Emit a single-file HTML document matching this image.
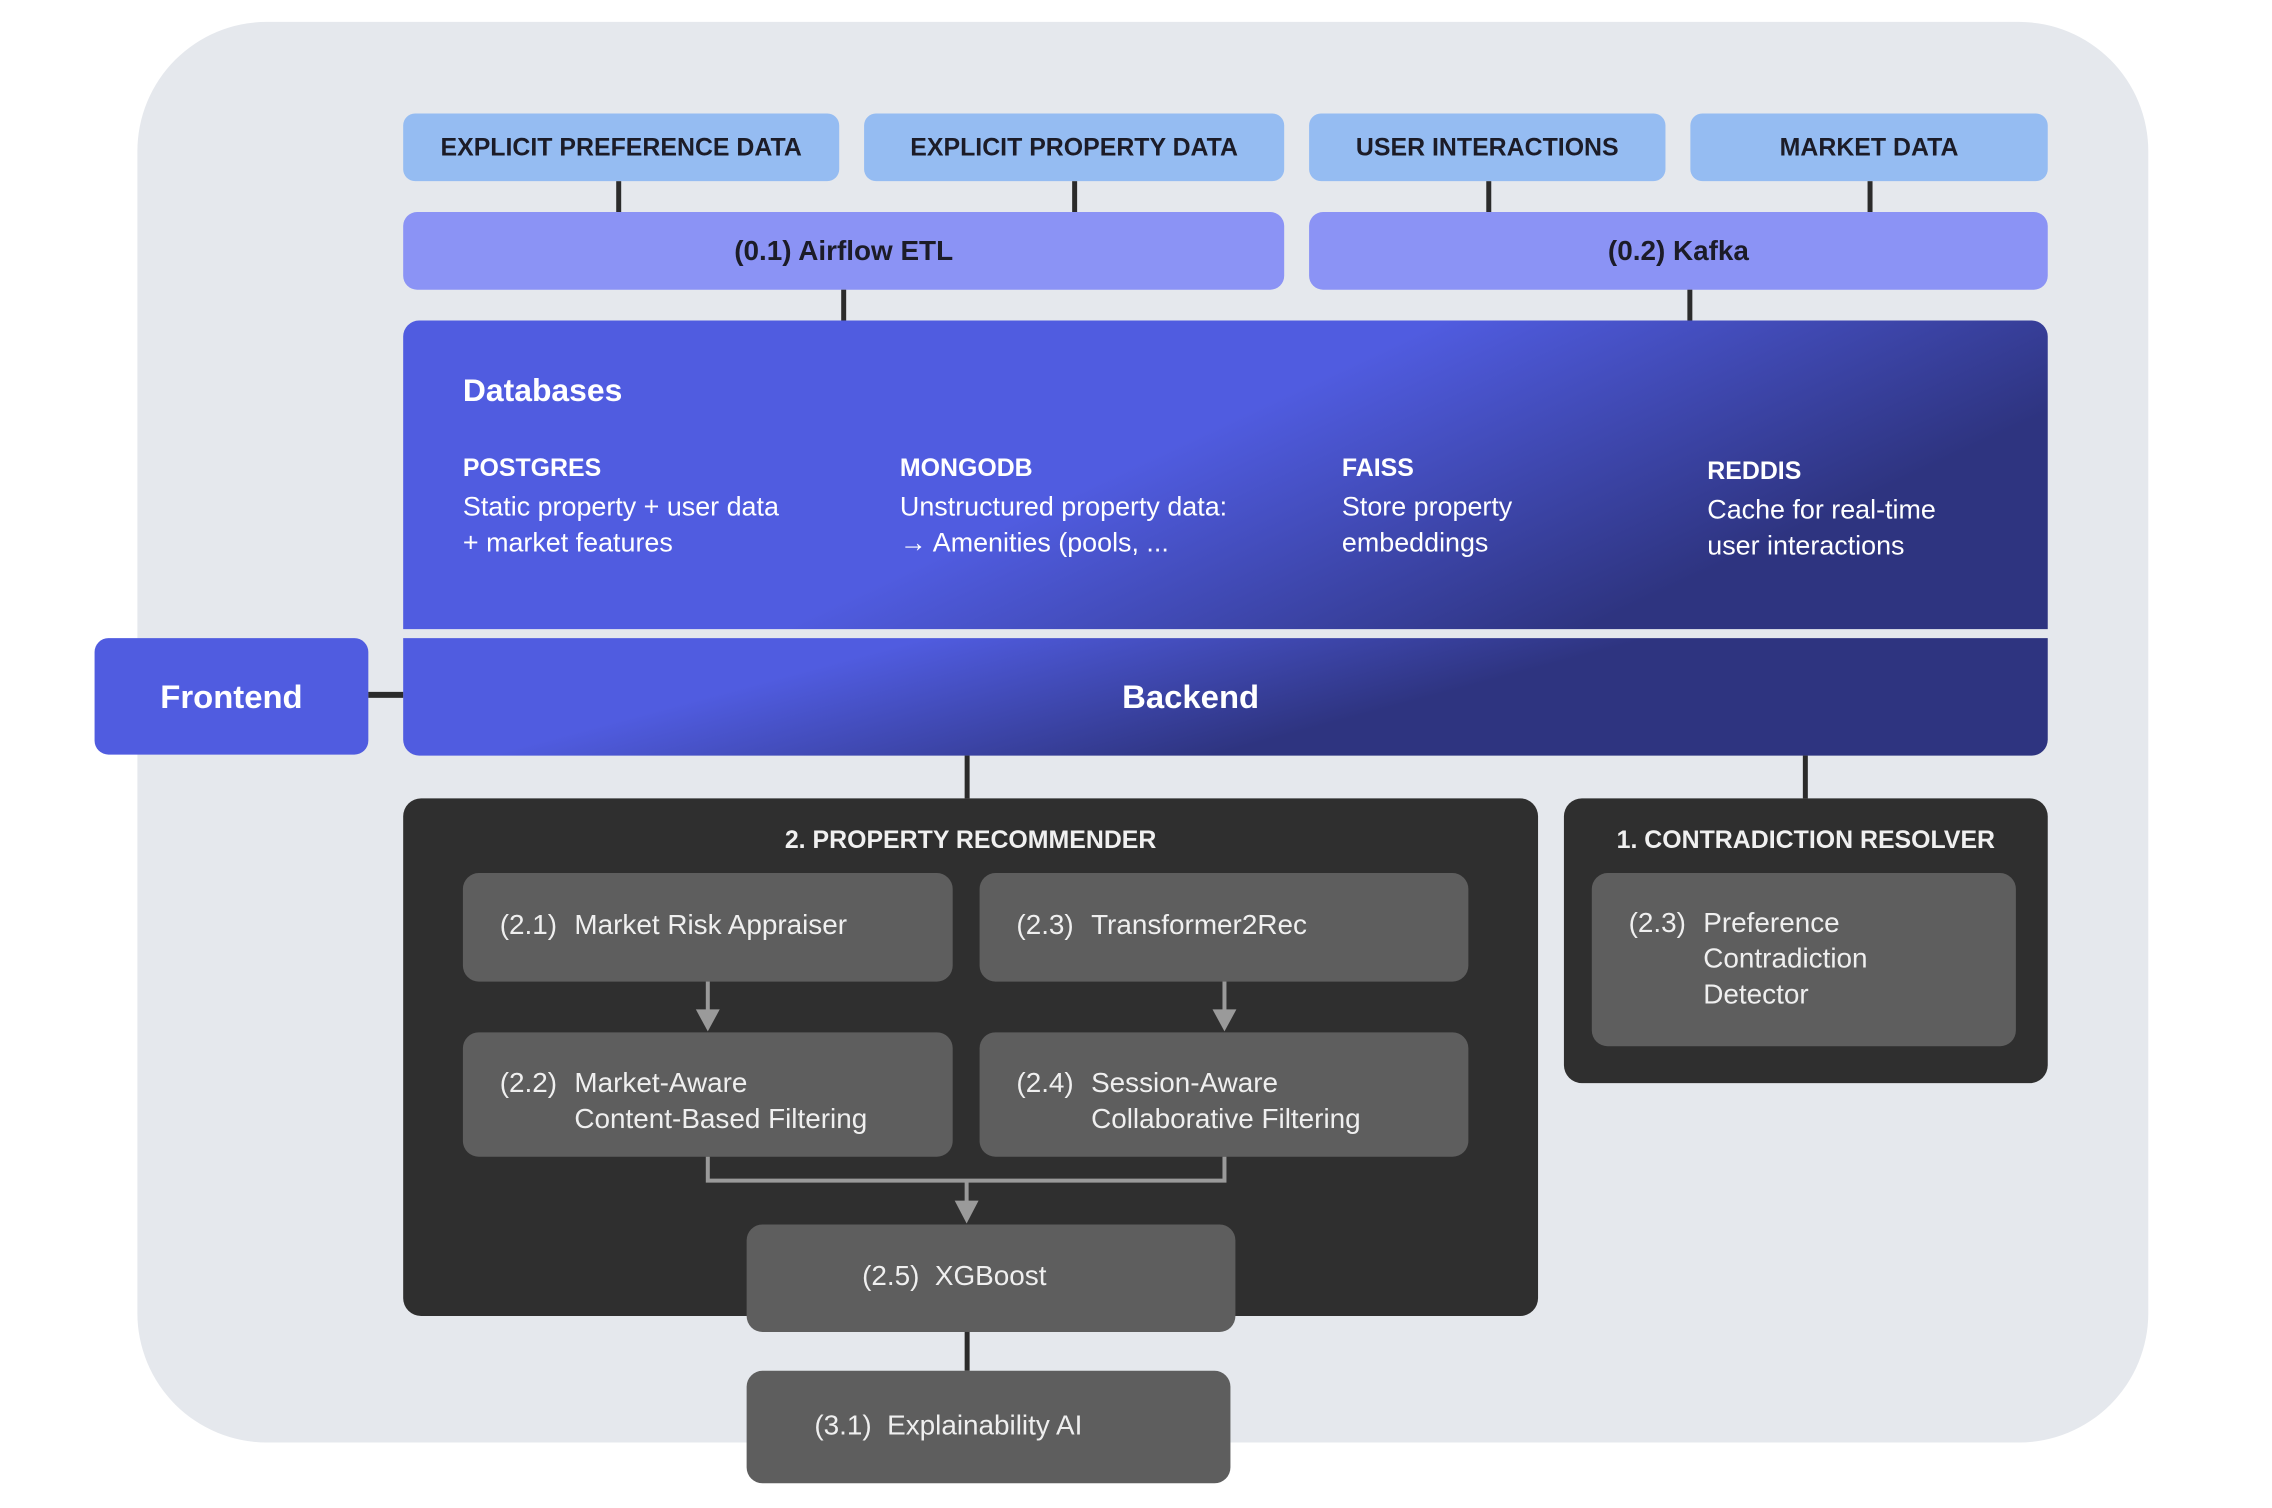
<!DOCTYPE html>
<html><head><meta charset="utf-8"><style>
*{margin:0;padding:0;box-sizing:border-box}
body{width:2272px;height:1508px;background:#fff;position:relative;overflow:hidden;font-family:"Liberation Sans",sans-serif}
#w{position:absolute;left:0;top:0;width:2272px;height:1508px;transform:scale(0.9955);transform-origin:0 0}
.a{position:absolute}
.bg{left:138px;top:22px;width:2020px;height:1427px;background:#e5e8ed;border-radius:130px}
.top{background:#95bcf2;border-radius:12px;color:#1c1c28;font-size:25px;font-weight:bold;display:flex;align-items:center;justify-content:center;top:114px;height:68px}
.etl{background:#8b93f5;border-radius:14px;color:#1c1c28;font-size:28px;font-weight:bold;display:flex;align-items:center;justify-content:center;top:213px;height:78px}
.vl{background:#2b2b2b;width:5px}
.db{left:405px;top:322px;width:1652px;height:310px;border-radius:16px 16px 0 0;background:linear-gradient(155deg,#505ce0 0%,#505ce0 45%,#2e3480 80%,#2e3480 100%);color:#fff}
.be{left:405px;top:641px;width:1652px;height:118px;border-radius:0 0 16px 16px;background:linear-gradient(165deg,#505ce0 0%,#505ce0 25%,#2e3480 60%,#2e3480 100%);color:#fff;font-size:33px;font-weight:bold;display:flex;align-items:center;justify-content:center}
.h{font-size:25px;font-weight:bold}
.t{font-size:27px;line-height:36px;margin-top:6px}
.dark{background:#2f2f2f;border-radius:18px}
.in{background:#5e5e5e;border-radius:16px;color:#efefef;font-size:28px;line-height:36px}
.in .n{position:absolute;left:37px}
.in .l{position:absolute;left:112px}
.ttl{color:#f0f0f0;font-size:25px;font-weight:bold;text-align:center;position:absolute;width:100%}
</style></head><body><div id="w">
<div class="a bg"></div>

<div class="a top" style="left:405px;width:438px">EXPLICIT PREFERENCE DATA</div>
<div class="a top" style="left:868px;width:422px">EXPLICIT PROPERTY DATA</div>
<div class="a top" style="left:1315px;width:358px">USER INTERACTIONS</div>
<div class="a top" style="left:1698px;width:359px">MARKET DATA</div>

<div class="a vl" style="left:619px;top:182px;height:31px"></div>
<div class="a vl" style="left:1077px;top:182px;height:31px"></div>
<div class="a vl" style="left:1493px;top:182px;height:31px"></div>
<div class="a vl" style="left:1876px;top:182px;height:31px"></div>

<div class="a etl" style="left:405px;width:885px">(0.1) Airflow ETL</div>
<div class="a etl" style="left:1315px;width:742px">(0.2) Kafka</div>

<div class="a vl" style="left:845px;top:291px;height:31px"></div>
<div class="a vl" style="left:1695px;top:291px;height:31px"></div>

<div class="a db">
 <div class="a" style="left:60px;top:52px;font-size:32px;font-weight:bold">Databases</div>
 <div class="a" style="left:60px;top:134px"><div class="h">POSTGRES</div><div class="t">Static property + user data<br>+ market features</div></div>
 <div class="a" style="left:499px;top:134px"><div class="h">MONGODB</div><div class="t">Unstructured property data:<br>→ Amenities (pools, ...</div></div>
 <div class="a" style="left:943px;top:134px"><div class="h">FAISS</div><div class="t">Store property<br>embeddings</div></div>
 <div class="a" style="left:1310px;top:137px"><div class="h">REDDIS</div><div class="t">Cache for real-time<br>user interactions</div></div>
</div>
<div class="a be"><span style="position:relative;left:-35px">Backend</span></div>

<div class="a" style="left:95px;top:641px;width:275px;height:117px;background:#505ce0;border-radius:14px;color:#fff;font-size:33px;font-weight:bold;display:flex;align-items:center;justify-content:center">Frontend</div>
<div class="a" style="left:370px;top:695px;width:35px;height:6px;background:#2b2b2b"></div>

<div class="a vl" style="left:969px;top:759px;height:43px"></div>
<div class="a vl" style="left:1811px;top:759px;height:43px"></div>

<div class="a dark" style="left:405px;top:802px;width:1140px;height:520px">
 <div class="ttl" style="top:28px">2. PROPERTY RECOMMENDER</div>
</div>
<div class="a dark" style="left:1571px;top:802px;width:486px;height:286px">
 <div class="ttl" style="top:28px">1. CONTRADICTION RESOLVER</div>
</div>

<div class="a in" style="left:465px;top:877px;width:492px;height:109px"><span class="n" style="top:34px">(2.1)</span><span class="l" style="top:34px">Market Risk Appraiser</span></div>
<div class="a in" style="left:984px;top:877px;width:491px;height:109px"><span class="n" style="top:34px">(2.3)</span><span class="l" style="top:34px">Transformer2Rec</span></div>
<div class="a in" style="left:465px;top:1037px;width:492px;height:125px"><span class="n" style="top:33px">(2.2)</span><span class="l" style="top:33px">Market-Aware<br>Content-Based Filtering</span></div>
<div class="a in" style="left:984px;top:1037px;width:491px;height:125px"><span class="n" style="top:33px">(2.4)</span><span class="l" style="top:33px">Session-Aware<br>Collaborative Filtering</span></div>
<div class="a in" style="left:1599px;top:877px;width:426px;height:174px"><span class="n" style="top:32px">(2.3)</span><span class="l" style="top:32px">Preference<br>Contradiction<br>Detector</span></div>

<svg class="a" style="left:0;top:0" width="2272" height="1508">
 <g stroke="#9a9a9a" stroke-width="4" fill="none">
  <line x1="711" y1="986" x2="711" y2="1018"/>
  <line x1="1230" y1="986" x2="1230" y2="1018"/>
  <polyline points="711,1162 711,1186 1230,1186 1230,1162"/>
  <line x1="971" y1="1186" x2="971" y2="1210"/>
 </g>
 <g fill="#9a9a9a">
  <polygon points="699,1014 723,1014 711,1036"/>
  <polygon points="1218,1014 1242,1014 1230,1036"/>
  <polygon points="959,1206 983,1206 971,1229"/>
 </g>
</svg>

<div class="a in" style="left:750px;top:1230px;width:491px;height:108px"><span class="a" style="left:116px;top:34px">(2.5)&nbsp; XGBoost</span></div>
<div class="a vl" style="left:969px;top:1338px;height:39px"></div>
<div class="a in" style="left:750px;top:1377px;width:486px;height:113px"><span class="a" style="left:68px;top:37px">(3.1)&nbsp; Explainability AI</span></div>
</div></body></html>
